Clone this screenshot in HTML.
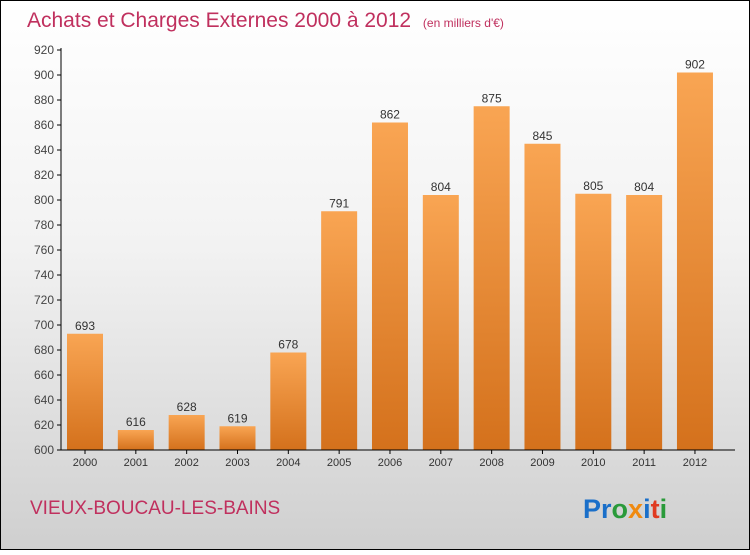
<!DOCTYPE html>
<html><head><meta charset="utf-8"><style>
body{margin:0;width:750px;height:550px;overflow:hidden;font-family:"Liberation Sans",sans-serif}
</style></head><body>
<svg id="c" width="750" height="550" xmlns="http://www.w3.org/2000/svg">
<defs>
<linearGradient id="bg" x1="0" y1="0" x2="0" y2="1"><stop offset="0" stop-color="#ffffff"/><stop offset="0.45" stop-color="#f2f2f2"/><stop offset="1" stop-color="#cfcfcf"/></linearGradient>
<linearGradient id="bar" x1="0" y1="0" x2="0" y2="1"><stop offset="0" stop-color="#f9a553"/><stop offset="1" stop-color="#d4711c"/></linearGradient>
</defs>
<rect x="0.5" y="0.5" width="749" height="549" fill="url(#bg)" stroke="#000"/>
<text x="27" y="27" font-size="21" fill="#c0305e">Achats et Charges Externes 2000 à 2012 <tspan font-size="12" dx="6">(en milliers d'€)</tspan></text>
<text x="30" y="514" font-size="19" fill="#c0305e">VIEUX-BOUCAU-LES-BAINS</text>
<text x="583" y="518" font-size="27" font-weight="bold"><tspan fill="#1a6fc9">Pr</tspan><tspan fill="#2a9a3a">o</tspan><tspan fill="#f08a10">x</tspan><tspan fill="#1a6fc9">i</tspan><tspan fill="#e03a20">t</tspan><tspan fill="#2a9a3a">i</tspan></text>
<g id="plot"></g>
</svg>
<script>
const categories=["2000","2001","2002","2003","2004","2005","2006","2007","2008","2009","2010","2011","2012"];
const values=[693,616,628,619,678,791,862,804,875,845,805,804,902];
const yTicks=[600,620,640,660,680,700,720,740,760,780,800,820,840,860,880,900,920];
const NS="http://www.w3.org/2000/svg";
const g=document.getElementById('plot');
const y=v=>450-(v-600)*1.25;
const x=i=>85+i*50.83;
function mk(t,a){const e=document.createElementNS(NS,t);for(const k in a)e.setAttribute(k,a[k]);g.appendChild(e);return e;}
yTicks.forEach(t=>{
 const l=mk('line',{x1:57,x2:61,y1:y(t),y2:y(t),stroke:'#000'});
 
 
 const tx=mk('text',{x:54,y:y(t)+4,'font-size':12,fill:'#444','text-anchor':'end'});
 tx.textContent=t;
 
 
});
values.forEach((v,i)=>{
 const r=mk('rect',{x:x(i)-18,y:y(v),width:36,height:450-y(v),fill:'url(#bar)'});
 
 
 const t=mk('text',{x:x(i),y:y(v)-4,'font-size':12,fill:'#333','text-anchor':'middle'});
 t.textContent=v;
 
 
 const tk=mk('line',{x1:x(i),x2:x(i),y1:450,y2:454,stroke:'#000'});
 
 
 const c=mk('text',{x:x(i),y:466,'font-size':11,fill:'#333','text-anchor':'middle'});
 c.textContent=categories[i];
 
 
});
const ya=mk('line',{x1:61,x2:61,y1:48,y2:450,stroke:'#000'});


const xa=mk('line',{x1:61,x2:735,y1:450,y2:450,stroke:'#000'});


</script>
</body></html>
